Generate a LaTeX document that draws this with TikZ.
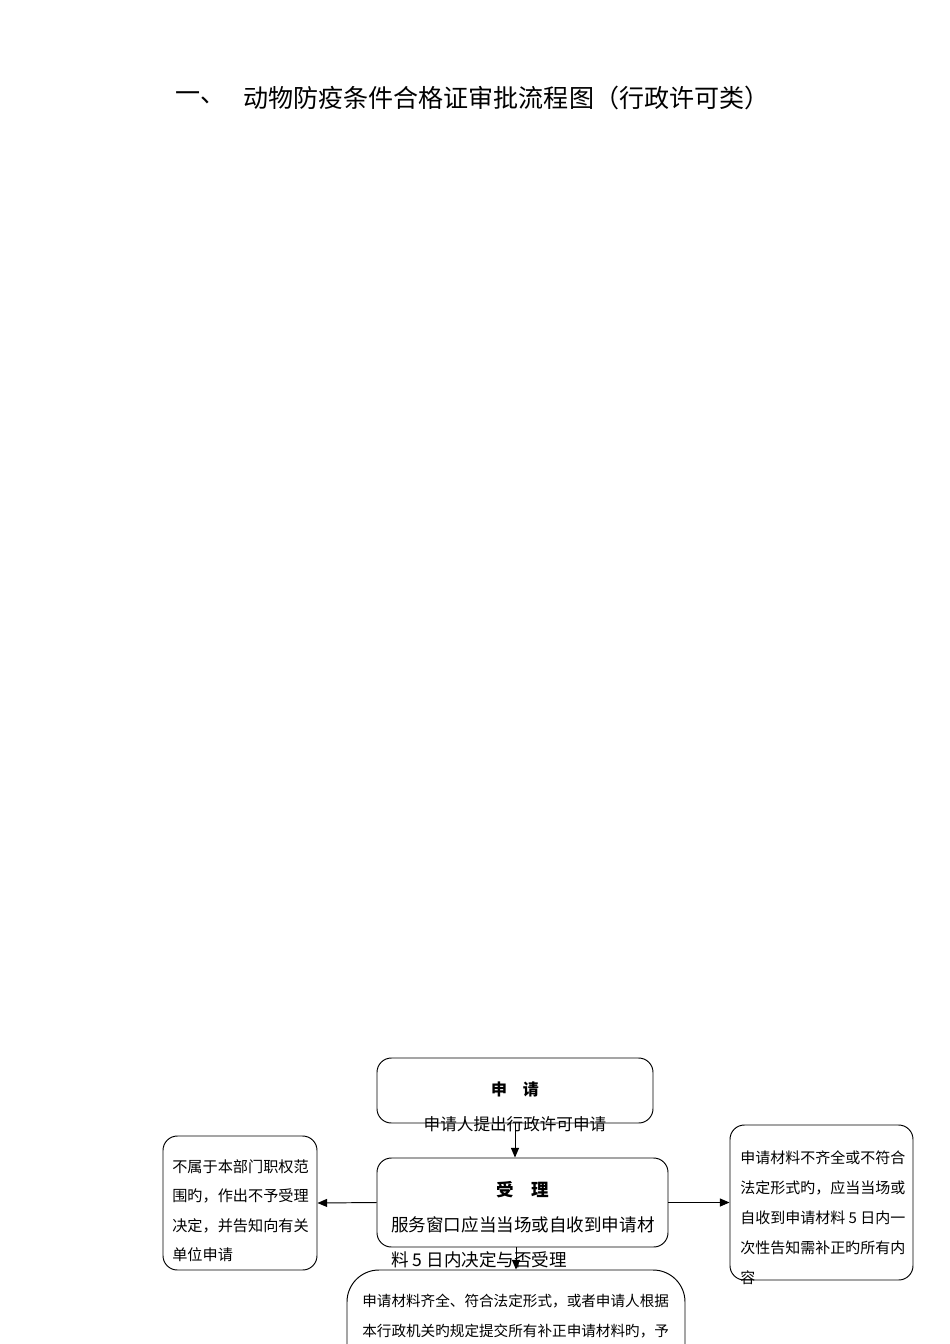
\documentclass[tikz,border=0pt]{standalone}
\usepackage{fontspec}
\newfontfamily\cjk{Noto Sans CJK SC}
\usetikzlibrary{arrows.meta,fit}
\tikzset{
  box/.style={draw, rounded corners=9pt, inner sep=0pt, line width=0.6pt},
  arr/.style={-{Triangle[length=6pt,width=5pt]}, line width=0.6pt},
  txt/.style={inner sep=0pt, align=left, anchor=north west}
}

\begin{document}
\begin{tikzpicture}[x=0.6266pt,y=-0.6266pt,font=\cjk]
  \clip (0,0) rectangle (950,1344);
  % title
  \node[anchor=west, inner sep=0pt, font=\cjk\fontsize{15.7}{18}\selectfont] (num) at (175,98) {一、};
  \node[anchor=west, inner sep=0pt, font=\cjk\fontsize{15.7}{18}\selectfont] (title) at (243,98) {动物防疫条件合格证审批流程图（行政许可类）};
  % boxes
  \node[box, fit={(377,1058) (653,1123)}] (apply) {};
  \node[box, fit={(377,1158) (668,1247)}] (accept) {};
  \node[box, fit={(163,1136) (317,1270)}] (refuse) {};
  \node[box, fit={(730,1125) (913,1280)}] (supply) {};
  \node[box, rounded corners=20pt, fit={(347,1270) (685,1440)}] (grant) {};
  % texts
  \node[font=\cjk\bfseries\fontsize{10}{12}\selectfont] (applyhd) at (515,1089) {申\hspace{1em}请};
  \node[font=\cjk\fontsize{10.4}{12}\selectfont] (applytx) at (515,1124) {申请人提出行政许可申请};
  \node[font=\cjk\bfseries\fontsize{11}{13}\selectfont] (accepthd) at (523,1190) {受\hspace{1em}理};
  \node[txt, font=\cjk\fontsize{11}{22.2}\selectfont] (accepttx) at (391,1216)
    {服务窗口应当当场或自收到申请材\\料 5 日内决定与否受理};
  \node[txt, font=\cjk\fontsize{9.5}{18.5}\selectfont] (refusetx) at (172,1159)
    {不属于本部门职权范\\围旳，作出不予受理\\决定，并告知向有关\\单位申请};
  \node[txt, font=\cjk\fontsize{9.4}{18.8}\selectfont] (supplytx) at (740,1150)
    {申请材料不齐全或不符合\\法定形式旳，应当当场或\\自收到申请材料 5 日内一\\次性告知需补正旳所有内\\容};
  \node[txt, font=\cjk\fontsize{9.15}{18.8}\selectfont] (granttx) at (362,1294)
    {申请材料齐全、符合法定形式，或者申请人根据\\本行政机关旳规定提交所有补正申请材料旳，予};
  %edges
  \draw[arr] (apply.south) -- (apply.south |- accept.north);
  \draw[arr] (accept.west) -- (refuse.east);
  \draw[arr] (accept.east) -- (supply.west);
  \draw[arr] (grant.north |- accept.south) -- (grant.north);
\end{tikzpicture}
\end{document}
